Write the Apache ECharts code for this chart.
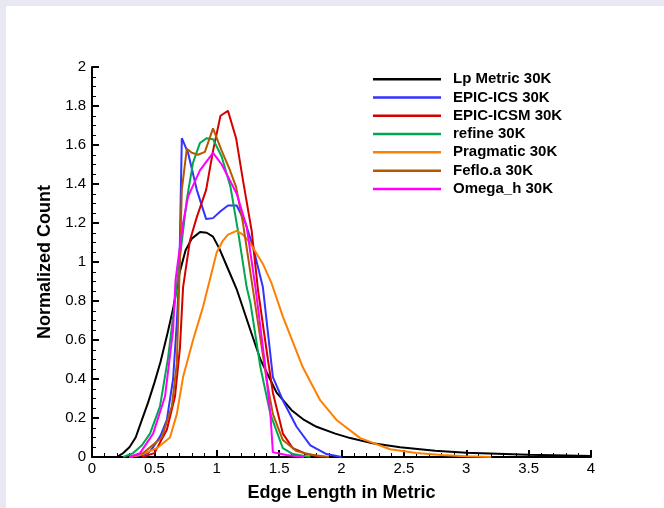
<!DOCTYPE html>
<html>
<head>
<meta charset="utf-8">
<script src="https://cdn.jsdelivr.net/npm/echarts@6/dist/echarts.min.js"></script>
<style>
  html, body { margin: 0; padding: 0; background: #e8e8f5; width: 664px; height: 508px; overflow: hidden; }
  #chart { position: absolute; left: 6px; top: 6px; width: 658px; height: 502px; background: #ffffff; }
</style>
</head>
<body>
<div id="chart"></div>
<script>
// Edge-length distributions, [edge length in metric, normalized count]
const seriesNames = ['Lp Metric 30K', 'EPIC-ICS 30K', 'EPIC-ICSM 30K', 'refine 30K', 'Pragmatic 30K', 'Feflo.a 30K', 'Omega_h 30K'];
const seriesColors = ['#000000', '#3333ff', '#d40000', '#00a650', '#ff8000', '#b35a00', '#ff00ff'];

const lpMetric = [[0.2,0],[0.25,0.02],[0.3,0.05],[0.35,0.1],[0.4,0.19],[0.45,0.28],[0.5,0.38],[0.55,0.49],[0.6,0.62],[0.65,0.76],[0.7,0.94],[0.75,1.06],[0.8,1.12],[0.866,1.154],[0.92,1.15],[0.97,1.13],[1.02,1.07],[1.1,0.95],[1.16,0.86],[1.27,0.65],[1.35,0.50],[1.48,0.33],[1.6,0.24],[1.7,0.19],[1.8,0.155],[1.95,0.12],[2.07,0.097],[2.25,0.07],[2.47,0.05],[2.75,0.032],[3.0,0.022],[3.5,0.011],[4.0,0.005]];
const epicIcs = [[0.3,0],[0.4,0.01],[0.45,0.02],[0.49,0.05],[0.55,0.11],[0.6,0.19],[0.65,0.40],[0.68,0.69],[0.70,0.95],[0.72,1.635],[0.77,1.56],[0.84,1.37],[0.915,1.22],[0.97,1.225],[1.03,1.26],[1.09,1.29],[1.16,1.29],[1.23,1.20],[1.29,1.08],[1.37,0.87],[1.45,0.41],[1.53,0.29],[1.64,0.155],[1.75,0.06],[1.88,0.015],[2.0,0]];
const epicIcsm = [[0.4,0],[0.5,0.02],[0.6,0.14],[0.665,0.31],[0.705,0.56],[0.73,0.87],[0.785,1.11],[0.84,1.23],[0.915,1.37],[0.97,1.57],[1.03,1.75],[1.09,1.775],[1.155,1.635],[1.21,1.42],[1.28,1.16],[1.33,0.86],[1.41,0.50],[1.45,0.33],[1.53,0.12],[1.61,0.045],[1.72,0.015],[1.85,0]];
const refine = [[0.25,0],[0.33,0.02],[0.4,0.06],[0.465,0.12],[0.545,0.26],[0.61,0.51],[0.665,0.80],[0.71,1.05],[0.76,1.32],[0.81,1.51],[0.865,1.61],[0.92,1.635],[0.97,1.63],[1.04,1.54],[1.11,1.385],[1.17,1.16],[1.24,0.87],[1.27,0.79],[1.35,0.46],[1.43,0.22],[1.53,0.045],[1.61,0.015],[1.75,0]];
const pragmatic = [[0.3,0],[0.385,0.01],[0.52,0.045],[0.625,0.10],[0.68,0.22],[0.73,0.41],[0.81,0.60],[0.89,0.77],[0.945,0.91],[1.0,1.05],[1.05,1.11],[1.09,1.14],[1.16,1.16],[1.21,1.14],[1.265,1.10],[1.37,0.99],[1.44,0.89],[1.53,0.72],[1.69,0.46],[1.83,0.29],[1.96,0.19],[2.15,0.097],[2.39,0.04],[2.6,0.02],[2.8,0.01],[3.0,0.004],[3.2,0]];
const fefloA = [[0.3,0],[0.41,0.02],[0.56,0.10],[0.64,0.26],[0.68,0.48],[0.70,0.91],[0.72,1.37],[0.76,1.58],[0.80,1.56],[0.85,1.55],[0.905,1.565],[0.97,1.685],[1.04,1.57],[1.1,1.48],[1.155,1.385],[1.21,1.20],[1.29,0.86],[1.40,0.395],[1.45,0.22],[1.53,0.087],[1.64,0.03],[1.77,0.01],[1.9,0]];
const omegaH = [[0.3,0],[0.385,0.02],[0.49,0.12],[0.585,0.31],[0.65,0.65],[0.67,0.91],[0.73,1.20],[0.77,1.335],[0.865,1.47],[0.97,1.56],[1.04,1.50],[1.16,1.35],[1.24,1.18],[1.31,0.87],[1.39,0.46],[1.43,0.22],[1.45,0.025],[1.48,0.02],[1.56,0.01],[1.7,0]];

const seriesData = [lpMetric, epicIcs, epicIcsm, refine, pragmatic, fefloA, omegaH];

const FONT = '"Liberation Sans", Arial, sans-serif';

const chart = echarts.init(document.getElementById('chart'), null, { renderer: 'canvas' });

const axisCommon = {
  type: 'value',
  nameLocation: 'middle',
  nameTextStyle: { fontFamily: FONT, fontWeight: 'bold', fontSize: 18, color: '#000' },
  axisLine: { show: true, lineStyle: { color: '#000', width: 2 } },
  axisTick: { show: true, inside: true, length: 7, lineStyle: { color: '#000', width: 2 } },
  minorTick: { show: true, length: 4, lineStyle: { color: '#000', width: 1 } },
  splitLine: { show: false },
  axisLabel: { fontFamily: FONT, fontSize: 15, color: '#000' }
};

chart.setOption({
  animation: false,
  backgroundColor: '#ffffff',
  grid: { left: 86, top: 61, right: 73, bottom: 51, containLabel: false },
  legend: {
    orient: 'vertical',
    left: 367,
    top: 64,
    padding: 0,
    itemGap: 0,
    itemWidth: 68,
    itemHeight: 2.5,
    icon: 'rect',
    data: seriesNames,
    textStyle: { fontFamily: FONT, fontWeight: 'bold', fontSize: 15, color: '#000', lineHeight: 18.3, padding: [0, 0, 0, 7] }
  },
  xAxis: Object.assign({}, axisCommon, {
    min: 0, max: 4, interval: 0.5,
    name: 'Edge Length in Metric',
    nameGap: 27,
    minorTick: Object.assign({}, axisCommon.minorTick, { splitNumber: 5 }),
    axisLabel: Object.assign({}, axisCommon.axisLabel, { margin: 4 })
  }),
  yAxis: Object.assign({}, axisCommon, {
    min: 0, max: 2, interval: 0.2,
    name: 'Normalized Count',
    nameGap: 35,
    minorTick: Object.assign({}, axisCommon.minorTick, { splitNumber: 4 }),
    axisLabel: Object.assign({}, axisCommon.axisLabel, { margin: 6 })
  }),
  series: seriesNames.map((name, i) => ({
    name: name,
    type: 'line',
    data: seriesData[i],
    symbol: 'none',
    smooth: false,
    color: seriesColors[i],
    lineStyle: { color: seriesColors[i], width: 2 },
    itemStyle: { color: seriesColors[i] }
  }))
});
</script>
</body>
</html>
